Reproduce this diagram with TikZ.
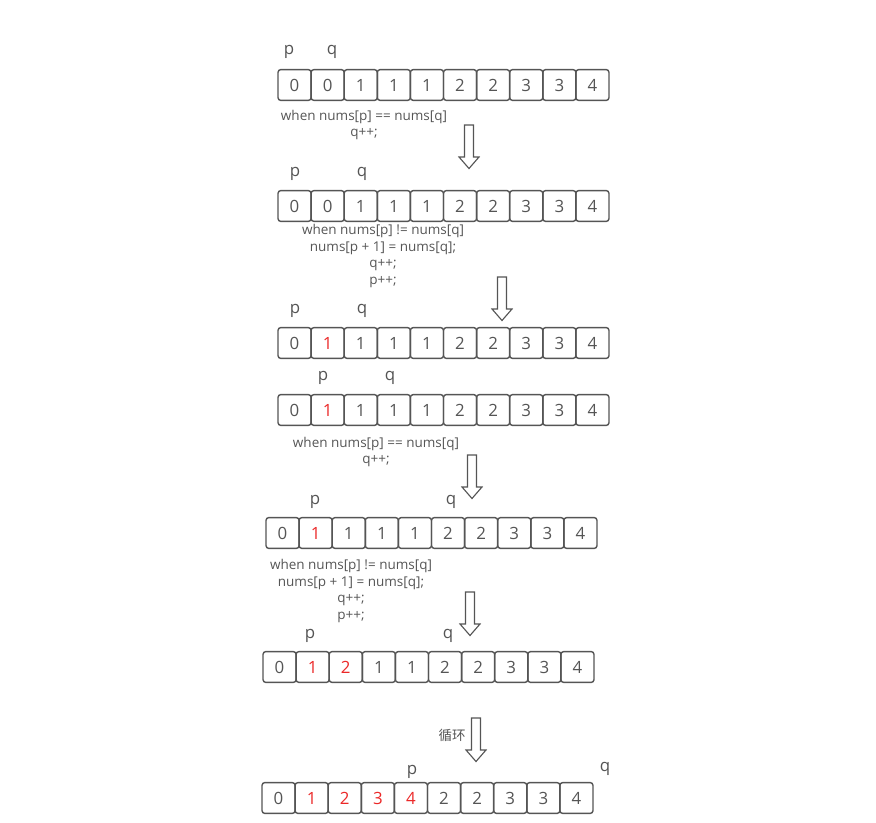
\documentclass[tikz,border=0pt]{standalone}
\usepackage{fontspec}
\setmainfont{Open Sans}
\newfontfamily\cjk{Noto Sans CJK SC}
\definecolor{ink}{RGB}{85,85,85}
\definecolor{hot}{RGB}{235,40,40}
\tikzset{
  cell/.style={draw=ink, line width=1pt, rounded corners=2pt, minimum width=0.8275cm,
    minimum height=0.77cm, inner sep=0pt, font=\fontsize{12}{14}\selectfont},
  ptr/.style={text=ink, inner sep=0pt, font=\fontsize{12}{14}\selectfont},
  code/.style={text=ink, inner sep=0pt, align=center, font=\fontsize{9.6}{12}\selectfont},
  downarr/.pic={\draw[draw=ink, line width=0.8pt, fill=white, line join=miter]
    (-4.5,0) -- (4.5,0) -- (4.5,32) -- (10,32) -- (0,43.5) -- (-10,32) -- (-4.5,32) -- cycle;}
}
% one array row: name, left x, centre y, values/colours
\newcommand\numrow[4]{%
  \foreach \v/\c [count=\k from 0] in {#4}
    \node[cell, text=\c] (#1-\k) at ({#2+16.55+33.1*\k},#3) {\v};}
\begin{document}
\begin{tikzpicture}[x=0.025cm, y=-0.025cm]
  \useasboundingbox (0,0) rectangle (876,823);

  % row 1
  \numrow{a}{278}{85}{0/ink,0/ink,1/ink,1/ink,1/ink,2/ink,2/ink,3/ink,3/ink,4/ink}
  \node[ptr] (pa) at (289,52) {p};
  \node[ptr] (qa) at (332,52) {q};
  \node[code] (ca) at (364,125) {when nums[p] == nums[q]\\q++;};
  \pic at (469,125) {downarr};

  % row 2
  \numrow{b}{278}{206}{0/ink,0/ink,1/ink,1/ink,1/ink,2/ink,2/ink,3/ink,3/ink,4/ink}
  \node[ptr] (pb) at (295,174) {p};
  \node[ptr] (qb) at (362,174) {q};
  \node[code] (cb) at (383,256) {when nums[p] != nums[q]\\nums[p + 1] = nums[q];\\q++;\\p++;};
  \pic at (502,277) {downarr};

  % row 3
  \numrow{c}{278}{343}{0/ink,1/hot,1/ink,1/ink,1/ink,2/ink,2/ink,3/ink,3/ink,4/ink}
  \node[ptr] (pc) at (295,311) {p};
  \node[ptr] (qc) at (362,311) {q};

  % row 4
  \numrow{d}{278}{410}{0/ink,1/hot,1/ink,1/ink,1/ink,2/ink,2/ink,3/ink,3/ink,4/ink}
  \node[ptr] (pd) at (323,378) {p};
  \node[ptr] (qd) at (390,378) {q};
  \node[code] (cd) at (376,452) {when nums[p] == nums[q]\\q++;};
  \pic at (472,455) {downarr};

  % row 5
  \numrow{e}{266}{533}{0/ink,1/hot,1/ink,1/ink,1/ink,2/ink,2/ink,3/ink,3/ink,4/ink}
  \node[ptr] (pe) at (315,502) {p};
  \node[ptr] (qe) at (451,502) {q};
  \node[code] (ce) at (351,591) {when nums[p] != nums[q]\\nums[p + 1] = nums[q];\\q++;\\p++;};
  \pic at (470,592) {downarr};

  % row 6
  \numrow{f}{263}{667}{0/ink,1/hot,2/hot,1/ink,1/ink,2/ink,2/ink,3/ink,3/ink,4/ink}
  \node[ptr] (pf) at (310,636) {p};
  \node[ptr] (qf) at (448,636) {q};

  % loop
  \node[code] (loop) at (452,735) {\cjk 循环};
  \pic at (476,718) {downarr};

  % row 7
  \numrow{g}{262}{798}{0/ink,1/hot,2/hot,3/hot,4/hot,2/ink,2/ink,3/ink,3/ink,4/ink}
  \node[ptr] (pg) at (412,772) {p};
  \node[ptr] (qg) at (605,769) {q};
\end{tikzpicture}
\end{document}
